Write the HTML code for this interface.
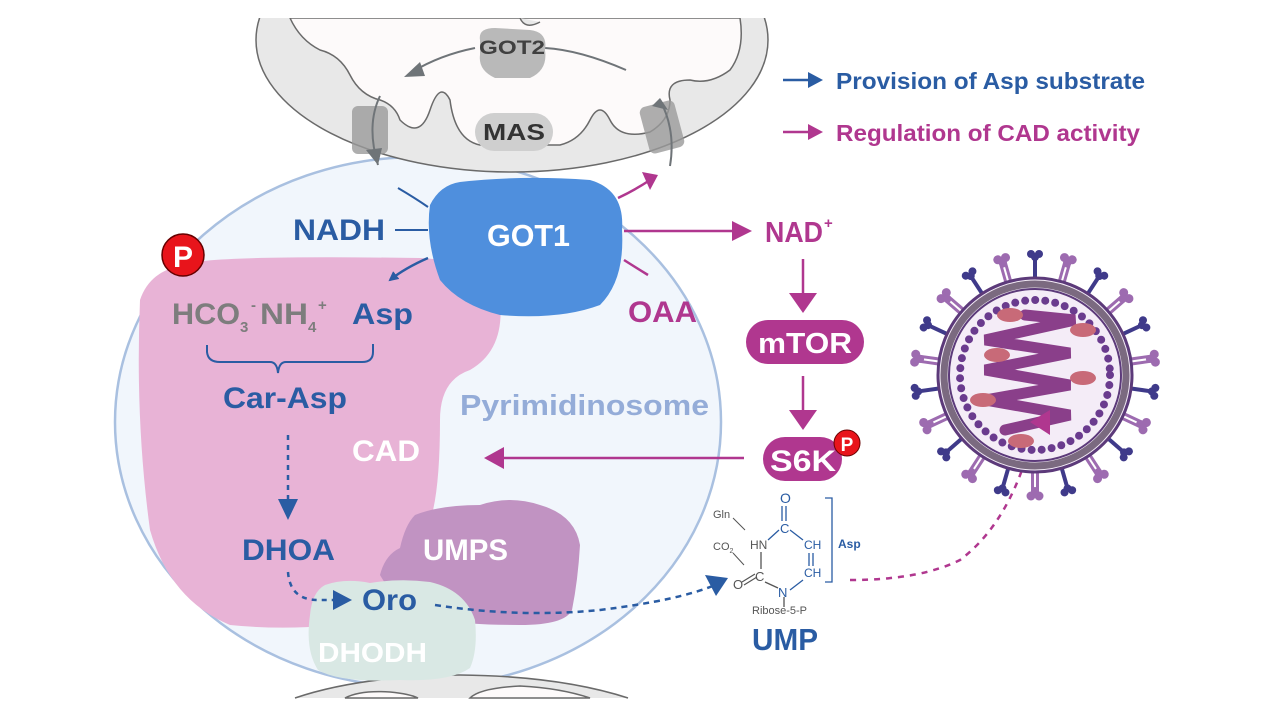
<!DOCTYPE html>
<html><head><meta charset="utf-8"><style>
html,body{margin:0;padding:0;background:#fff;width:1268px;height:712px;overflow:hidden;}
svg{display:block;font-family:"Liberation Sans",Arial,sans-serif;font-weight:bold;}
</style></head><body>
<svg width="1268" height="712" viewBox="0 0 1268 712" xmlns="http://www.w3.org/2000/svg">
<defs>
<clipPath id="cl"><rect x="0" y="18" width="1268" height="680"/></clipPath>
<marker id="ab" markerWidth="10" markerHeight="10" refX="8" refY="5" orient="auto" markerUnits="userSpaceOnUse"><path d="M0,0 L10,5 L0,10 z" fill="#2a5ca3"/></marker>
<g id="sp1"><rect x="-2" y="-120" width="4" height="22" fill="#3f3a8a"/><circle cx="-4" cy="-121" r="4" fill="#3f3a8a"/><circle cx="4" cy="-121" r="4" fill="#3f3a8a"/><circle cx="0" cy="-118" r="4" fill="#3f3a8a"/></g>
<g id="sp2"><rect x="-4" y="-118" width="3" height="20" fill="#9d6bb0"/><rect x="1" y="-118" width="3" height="20" fill="#9d6bb0"/><circle cx="-4" cy="-121" r="4.5" fill="#9d6bb0"/><circle cx="4" cy="-121" r="4.5" fill="#9d6bb0"/><circle cx="0" cy="-116" r="4" fill="#9d6bb0"/></g>
</defs>
<rect width="1268" height="712" fill="#fff"/>
<g clip-path="url(#cl)">
<ellipse cx="418" cy="422" rx="303" ry="265" fill="#f1f6fc" stroke="#a9c0e0" stroke-width="2.5"/>
<ellipse cx="512" cy="40" rx="256" ry="132" fill="#e8e8e8" stroke="#6a6a6a" stroke-width="1.5"/>
<path d="M290,18 Q300,40 320,50 Q340,55 350,75 Q360,95 380,100 Q395,105 400,120 Q420,140 430,110 Q440,80 450,100 Q455,140 480,145 L560,145 Q580,140 590,120 Q600,100 610,120 Q620,140 650,132 Q670,120 670,100 Q665,80 690,80 Q710,85 730,70 Q745,50 740,18 Z" fill="#fdfafa" stroke="#6a6a6a" stroke-width="1.5"/>
<path d="M520,18 Q525,30 540,22" fill="#e8e8e8" stroke="#6a6a6a" stroke-width="1.5"/>
<path d="M626,70 Q580,50 545,48" fill="none" stroke="#6f7478" stroke-width="2"/>
<path d="M475,48 Q440,55 412,72" fill="none" stroke="#6f7478" stroke-width="2"/>
<path d="M404,77 L420,62 L425,76 z" fill="#6f7478"/>
<path d="M480,40 Q478,28 495,28 L530,30 Q548,32 545,50 Q548,70 530,78 L495,78 Q478,70 480,55 Z" fill="#b9b9b9"/>
<text x="512" y="54" font-size="19" fill="#404040" text-anchor="middle" textLength="66" lengthAdjust="spacingAndGlyphs">GOT2</text>
<rect x="475" y="113" width="78" height="38" rx="19" fill="#cfcfcf"/>
<text x="514" y="140" font-size="23" fill="#333" text-anchor="middle" textLength="62" lengthAdjust="spacingAndGlyphs">MAS</text>
<rect x="352" y="106" width="36" height="48" rx="6" fill="#9a9a9a" opacity="0.8"/>
<path d="M380,96 Q366,125 378,165" fill="none" stroke="#6f7478" stroke-width="2"/>
<path d="M366,150 L378,165 L382,148 z" fill="#6f7478"/>
<rect x="644" y="103" width="36" height="48" rx="6" fill="#9a9a9a" opacity="0.8" transform="rotate(-15 662 127)"/>
<path d="M670,166 Q676,130 660,100" fill="none" stroke="#6f7478" stroke-width="2"/>
<path d="M652,106 L660,98 L668,110 z" fill="#6f7478"/>
</g>
<path d="M295,698 Q360,676 460,675 Q560,676 628,698 Z" fill="#e8e8e8"/>
<path d="M295,698 Q360,676 460,675 Q560,676 628,698" fill="none" stroke="#6a6a6a" stroke-width="1.5"/>
<path d="M345,698 Q360,690 390,692 Q410,694 418,698 Z M470,698 Q480,688 520,686 Q560,688 590,698 Z" fill="#fdfafa" stroke="#6a6a6a" stroke-width="1.5"/>
<path d="M185,265 Q200,255 420,258 Q495,262 500,300 Q505,350 470,370 Q440,380 440,420 Q440,520 420,540 Q410,580 380,620 Q300,632 230,625 Q170,600 150,530 Q135,420 140,300 Q150,270 185,265 Z" fill="#e8b3d6"/>
<path d="M415,515 Q440,505 480,505 Q510,495 540,505 Q575,515 580,545 Q578,580 572,610 Q565,625 520,625 Q470,625 440,620 Q400,610 380,575 Q385,555 400,548 Q405,525 415,515 Z" fill="#c193c2"/>
<path d="M325,585 Q345,578 370,583 Q400,578 430,582 Q465,590 475,620 Q478,650 470,668 Q450,682 400,680 Q340,683 318,670 Q305,650 310,615 Q312,592 325,585 Z" fill="#d9e8e4"/>
<path d="M460,182 Q520,175 590,180 Q625,190 622,230 Q625,280 600,305 Q560,320 500,315 Q460,305 440,280 Q425,240 430,205 Q440,185 460,182 Z" fill="#4f8fdd"/>
<text x="487" y="246" font-size="31" fill="#fff" textLength="83" lengthAdjust="spacingAndGlyphs">GOT1</text>
<path d="M398,188 Q415,198 428,207" fill="none" stroke="#2a5ca3" stroke-width="2"/>
<line x1="395" y1="230" x2="428" y2="230" stroke="#2a5ca3" stroke-width="2"/>
<path d="M428,258 Q405,268 390,280" fill="none" stroke="#2a5ca3" stroke-width="2.5" marker-end="url(#ab)"/>
<text x="293" y="240" font-size="30" fill="#2a5ca3" textLength="92" lengthAdjust="spacingAndGlyphs">NADH</text>
<path d="M618,198 Q635,190 650,180" fill="none" stroke="#b0378f" stroke-width="2.5"/>
<path d="M642,172 L658,175 L650,190 z" fill="#b0378f"/>
<line x1="624" y1="231" x2="735" y2="231" stroke="#b0378f" stroke-width="2.5"/>
<path d="M732,221 L752,231 L732,241 z" fill="#b0378f"/>
<path d="M624,260 Q635,267 648,275" fill="none" stroke="#b0378f" stroke-width="2.5"/>
<text x="628" y="322" font-size="30" fill="#b0378f" textLength="69" lengthAdjust="spacingAndGlyphs">OAA</text>
<text x="765" y="242" font-size="29" fill="#b0378f" textLength="58" lengthAdjust="spacingAndGlyphs">NAD</text>
<text x="824" y="228" font-size="15" fill="#b0378f">+</text>
<line x1="803" y1="259" x2="803" y2="295" stroke="#b0378f" stroke-width="2.5"/>
<path d="M789,293 L817,293 L803,313 z" fill="#b0378f"/>
<rect x="746" y="320" width="118" height="44" rx="22" fill="#b0378f"/>
<text x="758" y="353" font-size="29" fill="#fff" textLength="94" lengthAdjust="spacingAndGlyphs">mTOR</text>
<line x1="803" y1="376" x2="803" y2="412" stroke="#b0378f" stroke-width="2.5"/>
<path d="M789,410 L817,410 L803,430 z" fill="#b0378f"/>
<rect x="763" y="437" width="79" height="44" rx="22" fill="#b0378f"/>
<text x="770" y="471" font-size="30" fill="#fff" textLength="66" lengthAdjust="spacingAndGlyphs">S6K</text>
<circle cx="847" cy="443" r="13" fill="#e8141b" stroke="#600" stroke-width="1"/>
<text x="847" y="451" font-size="19" fill="#fff" text-anchor="middle">P</text>
<line x1="500" y1="458" x2="744" y2="458" stroke="#b0378f" stroke-width="2.5"/>
<path d="M484,458 L504,447 L504,469 z" fill="#b0378f"/>
<circle cx="183" cy="255" r="21" fill="#e8141b" stroke="#600" stroke-width="1.5"/>
<text x="183" y="267" font-size="30" fill="#fff" text-anchor="middle">P</text>
<text x="172" y="324" font-size="30" fill="#7d7d7d" textLength="68" lengthAdjust="spacingAndGlyphs">HCO</text>
<text x="240" y="332" font-size="15" fill="#7d7d7d">3</text>
<text x="251" y="310" font-size="15" fill="#7d7d7d">-</text>
<text x="260" y="324" font-size="30" fill="#7d7d7d" textLength="48" lengthAdjust="spacingAndGlyphs">NH</text>
<text x="308" y="332" font-size="15" fill="#7d7d7d">4</text>
<text x="318" y="310" font-size="15" fill="#7d7d7d">+</text>
<text x="352" y="324" font-size="30" fill="#2a5ca3" textLength="61" lengthAdjust="spacingAndGlyphs">Asp</text>
<path d="M207,345 L207,352 Q208,362 220,362 L270,362 Q277,362 278,373 Q279,362 286,362 L362,362 Q373,362 373,352 L373,344" fill="none" stroke="#2a5ca3" stroke-width="2"/>
<text x="223" y="408" font-size="30" fill="#2a5ca3" textLength="124" lengthAdjust="spacingAndGlyphs">Car-Asp</text>
<line x1="288" y1="435" x2="288" y2="500" stroke="#2a5ca3" stroke-width="2.5" stroke-dasharray="5,5"/>
<path d="M278,499 L298,499 L288,520 z" fill="#2a5ca3"/>
<text x="352" y="461" font-size="30" fill="#fff" textLength="68" lengthAdjust="spacingAndGlyphs">CAD</text>
<text x="460" y="415" font-size="29" fill="#94acd8" textLength="249" lengthAdjust="spacingAndGlyphs">Pyrimidinosome</text>
<text x="242" y="560" font-size="30" fill="#2a5ca3" textLength="93" lengthAdjust="spacingAndGlyphs">DHOA</text>
<path d="M288,572 Q290,600 318,600 L335,600" fill="none" stroke="#2a5ca3" stroke-width="2.5" stroke-dasharray="5,5"/>
<path d="M333,590 L352,600 L333,610 z" fill="#2a5ca3"/>
<text x="362" y="610" font-size="30" fill="#2a5ca3" textLength="55" lengthAdjust="spacingAndGlyphs">Oro</text>
<text x="423" y="560" font-size="30" fill="#fff" textLength="85" lengthAdjust="spacingAndGlyphs">UMPS</text>
<text x="318" y="662" font-size="28" fill="#fff" textLength="109" lengthAdjust="spacingAndGlyphs">DHODH</text>
<path d="M435,605 Q520,618 600,610 Q680,600 715,585" fill="none" stroke="#2a5ca3" stroke-width="2.5" stroke-dasharray="6,5"/>
<path d="M705,575 L728,578 L716,596 z" fill="#2a5ca3"/>
<g font-weight="normal" font-size="11" fill="#555">
<text x="713" y="518">Gln</text>
<text x="713" y="550">CO<tspan font-size="7" dy="3">2</tspan></text>
<text x="752" y="614">Ribose-5-P</text>
</g>
<path d="M733,518 L745,530 M733,553 L744,565" stroke="#555" stroke-width="1"/>
<text x="750" y="549" font-size="12" font-weight="normal" fill="#555">HN</text>
<text x="755" y="581" font-size="13" font-weight="normal" fill="#555">C</text>
<text x="733" y="589" font-size="13" font-weight="normal" fill="#555">O</text>
<line x1="761" y1="552" x2="761" y2="569" stroke="#555" stroke-width="1.3"/>
<path d="M742,582 L755,574 M744,585 L757,577" stroke="#555" stroke-width="1.2"/>
<line x1="765" y1="582" x2="778" y2="588" stroke="#555" stroke-width="1.3"/>
<line x1="784" y1="597" x2="784" y2="607" stroke="#555" stroke-width="1.3"/>
<g fill="#2a5ca3" font-weight="normal">
<text x="778" y="597" font-size="13">N</text>
<text x="780" y="533" font-size="13">C</text>
<text x="780" y="503" font-size="14">O</text>
<text x="804" y="549" font-size="12">CH</text>
<text x="804" y="577" font-size="12">CH</text>
<text x="838" y="548" font-size="12" font-weight="bold">Asp</text>
</g>
<g stroke="#2a5ca3" stroke-width="1.3" fill="none">
<path d="M782,506 L782,521 M786,506 L786,521"/>
<path d="M768,540 L779,530"/>
<path d="M790,530 L803,540"/>
<path d="M809,553 L809,566 M813,553 L813,566"/>
<path d="M790,590 L803,580"/>
<path d="M825,498 L832,498 L832,582 L825,582"/>
</g>
<text x="752" y="650" font-size="31" fill="#2a5ca3" textLength="66" lengthAdjust="spacingAndGlyphs">UMP</text>
<path d="M850,580 Q920,580 960,560 Q1000,530 1022,470" fill="none" stroke="#b0378f" stroke-width="2.5" stroke-dasharray="6,6"/>
<g transform="translate(1035,375)">
<g>
<use href="#sp1" transform="rotate(0)"/><use href="#sp2" transform="rotate(16)"/><use href="#sp1" transform="rotate(33)"/><use href="#sp2" transform="rotate(49)"/><use href="#sp1" transform="rotate(65)"/><use href="#sp2" transform="rotate(82)"/><use href="#sp1" transform="rotate(98)"/><use href="#sp2" transform="rotate(115)"/><use href="#sp1" transform="rotate(131)"/><use href="#sp2" transform="rotate(147)"/><use href="#sp1" transform="rotate(164)"/><use href="#sp2" transform="rotate(180)"/><use href="#sp1" transform="rotate(196)"/><use href="#sp2" transform="rotate(213)"/><use href="#sp1" transform="rotate(229)"/><use href="#sp2" transform="rotate(245)"/><use href="#sp1" transform="rotate(262)"/><use href="#sp2" transform="rotate(278)"/><use href="#sp1" transform="rotate(295)"/><use href="#sp2" transform="rotate(311)"/><use href="#sp1" transform="rotate(327)"/><use href="#sp2" transform="rotate(344)"/>
</g>
<circle r="97" fill="#f4ecf7" stroke="#5c3a7a" stroke-width="3"/>
<circle r="91" fill="none" stroke="#7b6a80" stroke-width="7"/>
<circle r="86" fill="none" stroke="#5c3a7a" stroke-width="2"/>
<circle r="75" fill="none" stroke="#6a3b8e" stroke-width="8" stroke-linecap="round" stroke-dasharray="0 10.1"/>
<g stroke="#8a3f8a" stroke-width="11" stroke-linecap="round" fill="none">
<path d="M-10,-60 L40,-55 L-50,-35 L35,-22 L-50,-5 L35,10 L-50,25 L35,40 L-30,55"/>
</g>
<g fill="#c86a78">
<ellipse cx="-25" cy="-60" rx="13" ry="7"/><ellipse cx="48" cy="-45" rx="13" ry="7"/><ellipse cx="-38" cy="-20" rx="13" ry="7"/><ellipse cx="48" cy="3" rx="13" ry="7"/><ellipse cx="-52" cy="25" rx="13" ry="7"/><ellipse cx="-14" cy="66" rx="13" ry="7"/>
</g>
<path d="M-5,47 L15,35 L15,60 z" fill="#b0378f"/>
</g>
<line x1="783" y1="80" x2="812" y2="80" stroke="#2a5ca3" stroke-width="2.5"/>
<path d="M808,72 L823,80 L808,88 z" fill="#2a5ca3"/>
<text x="836" y="89" font-size="23" fill="#2a5ca3" textLength="309" lengthAdjust="spacingAndGlyphs">Provision of Asp substrate</text>
<line x1="783" y1="132" x2="812" y2="132" stroke="#b0378f" stroke-width="2.5"/>
<path d="M808,124 L823,132 L808,140 z" fill="#b0378f"/>
<text x="836" y="141" font-size="23" fill="#b0378f" textLength="304" lengthAdjust="spacingAndGlyphs">Regulation of CAD activity</text>
</svg>
</body></html>
